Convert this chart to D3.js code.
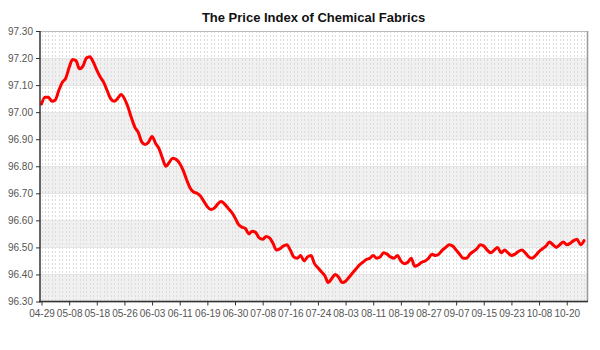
<!DOCTYPE html>
<html>
<head>
<meta charset="utf-8">
<script src="https://cdn.jsdelivr.net/npm/d3@7"></script>
<style>
  html, body { margin: 0; padding: 0; background: #fff; }
  svg { display: block; font-family: "Liberation Sans", Arial, sans-serif; }
</style>
</head>
<body>
<svg id="chart" width="600" height="350"></svg>
<script>
// ---- data ----
const title = "The Price Index of Chemical Fabrics";

const dates = [
  "04-29","04-30","05-01","05-02","05-04","05-05","05-06","05-07",
  "05-08","05-09","05-11","05-12","05-13","05-14","05-15","05-16",
  "05-18","05-19","05-20","05-21","05-22","05-23","05-24","05-25",
  "05-26","05-27","05-28","05-29","05-30","05-31","06-01","06-02",
  "06-03","06-04","06-05","06-06","06-07","06-08","06-09","06-10",
  "06-11","06-12","06-13","06-14","06-15","06-16","06-17","06-18",
  "06-19","06-20","06-22","06-23","06-24","06-25","06-26","06-29",
  "06-30","07-01","07-02","07-03","07-04","07-05","07-06","07-07",
  "07-08","07-09","07-10","07-11","07-12","07-13","07-14","07-15",
  "07-16","07-17","07-18","07-19","07-20","07-21","07-22","07-23",
  "07-24","07-25","07-27","07-28","07-29","07-30","07-31","08-01",
  "08-03","08-04","08-05","08-06","08-07","08-08","08-09","08-10",
  "08-11","08-12","08-13","08-14","08-15","08-16","08-17","08-18",
  "08-19","08-20","08-21","08-22","08-23","08-24","08-25","08-26",
  "08-27","08-28","08-29","08-31","09-01","09-02","09-05","09-06",
  "09-07","09-08","09-09","09-10","09-11","09-12","09-13","09-14",
  "09-15","09-16","09-17","09-18","09-19","09-20","09-21","09-22",
  "09-23","09-24","09-25","09-26","09-28","09-29","09-30","10-07",
  "10-08","10-09","10-10","10-12","10-13","10-14","10-15","10-16",
  "10-20","10-21","10-22","10-23","10-24","10-26"
];

const values = [
  97.03,97.055,97.055,97.04,97.045,97.08,97.11,97.125,
  97.165,97.195,97.19,97.16,97.17,97.20,97.205,97.185,
  97.155,97.13,97.11,97.08,97.05,97.04,97.05,97.065,
  97.05,97.02,96.98,96.945,96.925,96.89,96.88,96.89,
  96.91,96.885,96.865,96.83,96.80,96.815,96.83,96.825,
  96.81,96.785,96.75,96.72,96.705,96.70,96.69,96.67,
  96.65,96.64,96.645,96.66,96.67,96.66,96.645,96.63,
  96.61,96.585,96.575,96.57,96.55,96.56,96.555,96.535,
  96.53,96.54,96.535,96.515,96.49,96.495,96.505,96.51,
  96.49,96.465,96.46,96.47,96.45,96.465,96.47,96.44,
  96.425,96.41,96.395,96.37,96.385,96.40,96.39,96.37,
  96.375,96.39,96.405,96.42,96.435,96.445,96.455,96.46,
  96.47,96.46,96.465,96.48,96.475,96.465,96.46,96.47,
  96.45,96.44,96.445,96.46,96.43,96.435,96.445,96.45,
  96.46,96.475,96.47,96.475,96.49,96.50,96.51,96.505,
  96.49,96.475,96.46,96.46,96.475,96.485,96.495,96.51,
  96.505,96.49,96.48,96.49,96.50,96.48,96.49,96.48,
  96.47,96.475,96.485,96.49,96.48,96.465,96.46,96.47,
  96.485,96.495,96.505,96.52,96.51,96.50,96.51,96.52,
  96.51,96.515,96.525,96.53,96.51,96.525
];

const xTickLabels = ["04-29","05-08","05-18","05-26","06-03","06-11","06-19","06-30",
  "07-08","07-16","07-24","08-03","08-11","08-19","08-27","09-07","09-15","09-23",
  "10-08","10-20"];

const yTicks = [96.30,96.40,96.50,96.60,96.70,96.80,96.90,97.00,97.10,97.20,97.30];

// ---- layout ----
const plotLeft = 40, plotRight = 587, plotTop = 31, plotBottom = 301.5;

const svg = d3.select("#chart");

const x = d3.scaleLinear()
  .domain([0, dates.length - 1])
  .range([41.5, 584]);

const y = d3.scaleLinear()
  .domain([96.30, 97.30])
  .range([plotBottom, plotTop]);

// bands
const bands = [];
for (let k = 0; k < yTicks.length - 1; k += 2) bands.push([yTicks[k], yTicks[k + 1]]);
svg.append("g").selectAll("rect").data(bands).join("rect")
  .attr("x", plotLeft)
  .attr("width", plotRight - plotLeft)
  .attr("y", d => y(d[1]))
  .attr("height", d => y(d[0]) - y(d[1]))
  .attr("fill", "#f0f0f0");

// vertical dashed grid lines, one per point
svg.append("g").selectAll("line").data(dates).join("line")
  .attr("x1", (d, i) => Math.round(x(i)) + 0.5)
  .attr("x2", (d, i) => Math.round(x(i)) + 0.5)
  .attr("y1", plotTop)
  .attr("y2", plotBottom)
  .attr("stroke", "#dddddd")
  .attr("stroke-width", 1)
  .attr("stroke-dasharray", "2,2");

// horizontal grid lines
svg.append("g").selectAll("line").data(yTicks).join("line")
  .attr("x1", plotLeft).attr("x2", plotRight)
  .attr("y1", d => Math.round(y(d)) + 0.5)
  .attr("y2", d => Math.round(y(d)) + 0.5)
  .attr("stroke", "#e4e4e4");

// frame top/right
svg.append("line").attr("x1", plotLeft).attr("x2", plotRight)
  .attr("y1", plotTop + 0.5).attr("y2", plotTop + 0.5)
  .attr("stroke", "#bbbbbb");
svg.append("line").attr("x1", plotRight + 0.5).attr("x2", plotRight + 0.5)
  .attr("y1", plotTop).attr("y2", plotBottom)
  .attr("stroke", "#999999").attr("stroke-width", 1.5);

// line
const line = d3.line()
  .x((d, i) => x(i))
  .y(d => y(d))
  .curve(d3.curveMonotoneX);

svg.append("path")
  .datum(values)
  .attr("d", line)
  .attr("fill", "none")
  .attr("stroke", "#ff0000")
  .attr("stroke-width", 3)
  .attr("stroke-linejoin", "round")
  .attr("stroke-linecap", "round");

// y axis
const yAxis = d3.axisLeft(y)
  .tickValues(yTicks)
  .tickFormat(d3.format(".2f"))
  .tickSize(4)
  .tickPadding(3);
const gy = svg.append("g").attr("transform", `translate(${plotLeft},0)`).call(yAxis);
gy.select(".domain").attr("stroke", "#333").attr("stroke-width", 1.5)
  .attr("d", `M0,${plotTop}V${plotBottom + 1}`);
gy.selectAll(".tick line").attr("stroke", "#333");
gy.selectAll(".tick text").attr("fill", "#555").style("font-size", "10px")
  .style("font-family", "'Liberation Sans', Arial, sans-serif");

// x axis
const tickIdx = xTickLabels.map(l => dates.indexOf(l));
const xAxis = d3.axisBottom(x)
  .tickValues(tickIdx)
  .tickFormat(i => dates[i])
  .tickSize(4)
  .tickPadding(4);
const gx = svg.append("g").attr("transform", `translate(0,${plotBottom})`).call(xAxis);
gx.select(".domain").attr("stroke", "#333").attr("stroke-width", 1.5)
  .attr("d", `M${plotLeft - 1},0H${plotRight + 1}`);
gx.selectAll(".tick line").attr("stroke", "#333");
gx.selectAll(".tick text").attr("fill", "#555").style("font-size", "10px")
  .style("font-family", "'Liberation Sans', Arial, sans-serif");

// title
svg.append("text")
  .attr("x", (plotLeft + plotRight) / 2)
  .attr("y", 22)
  .attr("text-anchor", "middle")
  .style("font-size", "13px")
  .style("font-weight", "bold")
  .attr("fill", "#111")
  .text(title);
</script>
</body>
</html>
